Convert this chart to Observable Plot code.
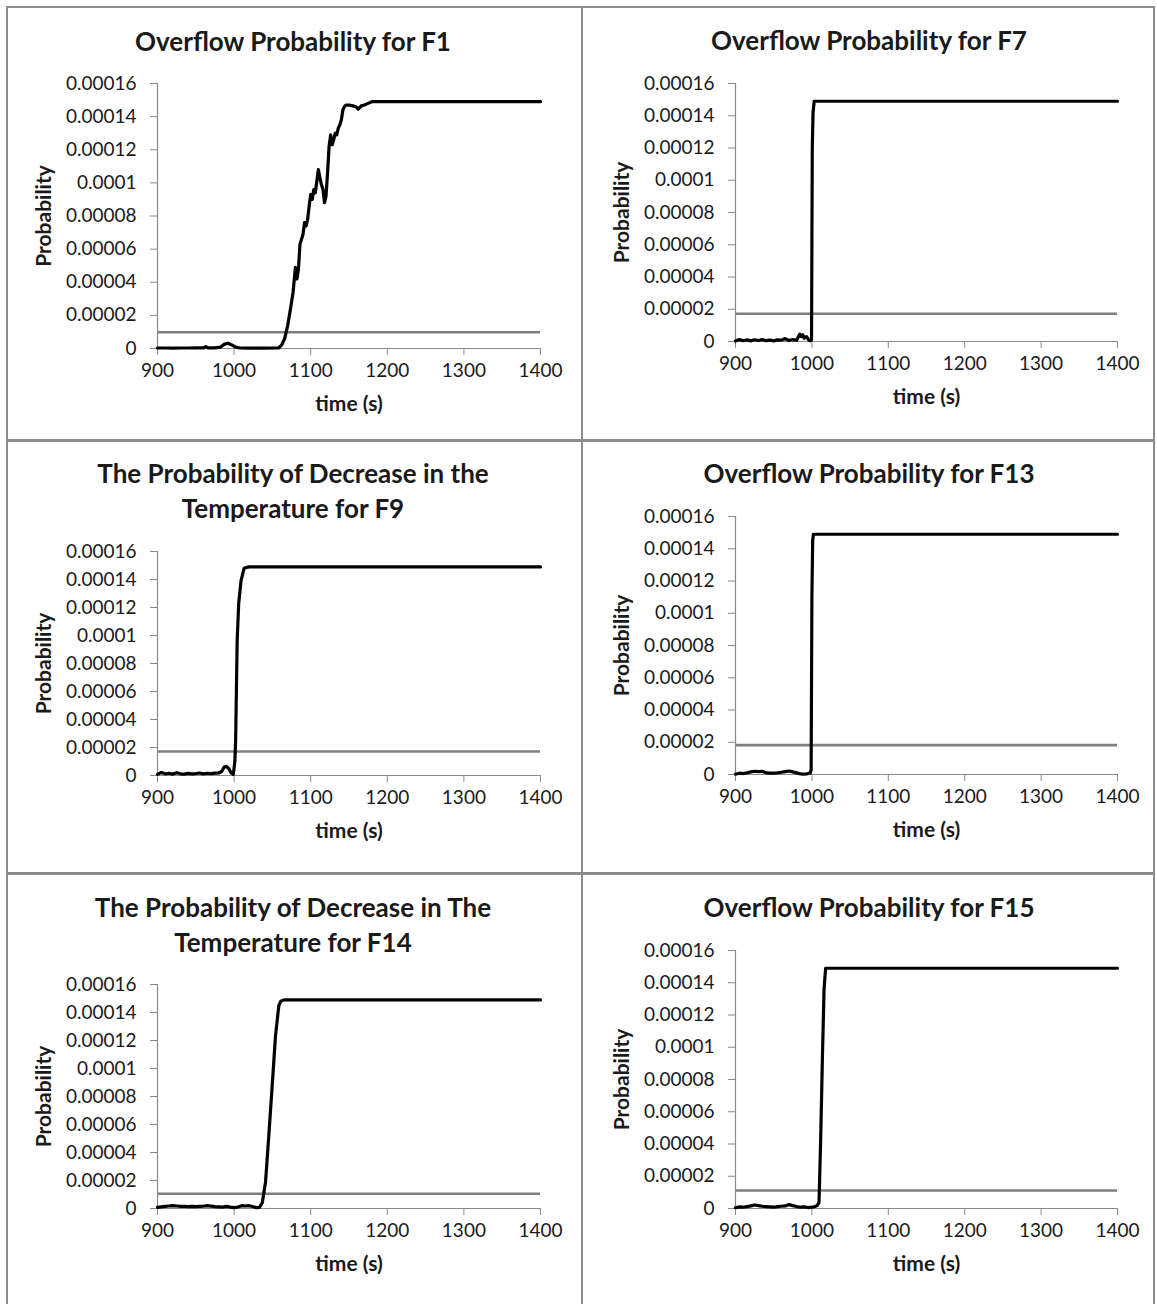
<!DOCTYPE html>
<html><head><meta charset="utf-8">
<script src="https://cdn.jsdelivr.net/npm/d3@7"></script>
<script src="https://cdn.jsdelivr.net/npm/@observablehq/plot@0.6"></script>
<style>
html,body{margin:0;padding:0;background:#fff;}
#page{position:relative;width:1157px;height:1304px;overflow:hidden;font-family:Lato,"Open Sans",sans-serif;background:#fff;}
.title{position:absolute;transform:translateX(-50%);text-align:center;font-weight:700;font-size:26px;line-height:35px;color:#1a1a1a;white-space:nowrap;}
.chart{position:absolute;}
.chart svg{overflow:visible;}
.rule{position:absolute;background:#8c8c8c;}
.chart svg g[aria-label$="-axis tick"]{stroke:#8a8a8a;}
.chart svg g[aria-label$="-axis label"] text{font-weight:700;font-size:21px;}
</style></head>
<body><div id="page"></div>
<script>
// ---- tick values & labels ----
const xTicks = [900, 1000, 1100, 1200, 1300, 1400];
const yTicks = [0, 0.00002, 0.00004, 0.00006, 0.00008, 0.0001, 0.00012, 0.00014, 0.00016];
const yTickLabels = ["0", "0.00002", "0.00004", "0.00006", "0.00008", "0.0001", "0.00012", "0.00014", "0.00016"];
const xLabel = "time (s)";
const yLabel = "Probability";

// ---- titles ----
const titles = [
  ["Overflow Probability for F1"],
  ["Overflow Probability for F7"],
  ["The Probability of Decrease in the", "Temperature for F9"],
  ["Overflow Probability for F13"],
  ["The Probability of Decrease in The", "Temperature for F14"],
  ["Overflow Probability for F15"]
];

// ---- threshold levels (gray lines) ----
const thresholds = [0.0000098, 0.0000172, 0.0000171, 0.0000182, 0.0000105, 0.0000112];

// ---- series ----
const f1Time = [900, 910, 920, 930, 940, 950, 960, 963, 966, 975, 982, 987, 992, 997, 1002, 1008, 1020, 1040, 1058, 1062, 1066, 1070, 1074, 1077, 1079, 1080, 1082, 1084, 1086, 1088, 1090, 1092, 1094, 1096, 1098, 1100, 1102, 1104, 1106, 1108, 1110, 1112, 1114, 1116, 1118, 1120, 1122, 1124, 1126, 1128, 1130, 1132, 1134, 1136, 1138, 1140, 1142, 1144, 1146, 1150, 1155, 1159, 1162, 1166, 1170, 1175, 1180, 1190, 1400];
const f1Prob = [0.0000003, 0.0000003, 0.0000002, 0.0000003, 0.0000003, 0.0000004, 0.0000004, 0.0000012, 0.0000004, 0.0000004, 0.0000008, 0.0000025, 0.0000032, 0.0000022, 0.0000008, 0.0000003, 0.0000002, 0.0000002, 0.0000003, 0.000002, 0.000006, 0.000014, 0.000025, 0.000034, 0.000044, 0.000049, 0.000042, 0.000048, 0.000063, 0.000066, 0.000069, 0.000076, 0.000074, 0.000078, 0.000086, 0.000093, 0.00009, 0.000096, 0.000094, 0.000101, 0.000108, 0.000103, 0.000099, 0.000096, 0.000088, 0.000092, 0.000106, 0.000122, 0.000129, 0.000123, 0.000126, 0.00013, 0.000129, 0.000133, 0.000135, 0.000138, 0.000144, 0.000146, 0.000147, 0.000147, 0.0001465, 0.000146, 0.0001445, 0.0001465, 0.000147, 0.000148, 0.000149, 0.000149, 0.000149];

const f7Time = [900, 905, 910, 915, 920, 925, 930, 935, 940, 945, 950, 955, 960, 965, 970, 975, 980, 984, 986, 988, 990, 993, 996, 998, 999.5, 1000.5, 1001.5, 1003, 1400];
const f7Prob = [0.0000003, 0.0000012, 0.0000005, 0.000001, 0.0000004, 0.0000011, 0.0000006, 0.0000012, 0.0000005, 0.0000009, 0.0000004, 0.000001, 0.0000008, 0.0000018, 0.0000006, 0.0000012, 0.0000008, 0.0000045, 0.000003, 0.0000042, 0.000002, 0.000003, 0.0000008, 0.0000005, 0.000001, 0.00012, 0.000142, 0.000149, 0.000149];

const f9Time = [900, 905, 910, 915, 920, 925, 930, 935, 940, 945, 950, 955, 960, 965, 970, 975, 980, 984, 987, 990, 993, 996, 999, 1001, 1002, 1004, 1006, 1009, 1013, 1019, 1400];
const f9Prob = [0.0000008, 0.0000022, 0.0000012, 0.0000016, 0.000001, 0.000002, 0.0000012, 0.000001, 0.0000015, 0.0000012, 0.0000014, 0.0000018, 0.0000012, 0.0000016, 0.0000013, 0.0000017, 0.0000018, 0.000003, 0.000006, 0.0000065, 0.000005, 0.000002, 0.0000008, 0.00001, 0.000025, 0.000096, 0.000123, 0.000139, 0.000148, 0.000149, 0.000149];

const f13Time = [900, 905, 910, 915, 920, 925, 930, 935, 940, 945, 950, 955, 960, 965, 970, 975, 980, 985, 989, 993, 996, 998, 999, 1000, 1001, 1002, 1400];
const f13Prob = [0.0000002, 0.0000008, 0.0000006, 0.000001, 0.0000016, 0.000002, 0.0000018, 0.000002, 0.000001, 0.0000008, 0.0000008, 0.000001, 0.0000014, 0.0000018, 0.0000022, 0.0000016, 0.000001, 0.0000004, 0.0000002, 0.0000003, 0.0000008, 0.000001, 0.000003, 0.00011, 0.000145, 0.000149, 0.000149];

const f14Time = [900, 905, 910, 915, 920, 925, 930, 935, 940, 945, 950, 955, 960, 965, 970, 975, 980, 985, 990, 995, 1000, 1005, 1010, 1015, 1020, 1025, 1029, 1033, 1036.7, 1041, 1045.3, 1049.7, 1054, 1058.4, 1061, 1065, 1400];
const f14Prob = [0.0000008, 0.0000012, 0.0000015, 0.0000018, 0.000002, 0.0000018, 0.0000015, 0.0000016, 0.0000014, 0.0000015, 0.0000014, 0.0000015, 0.0000016, 0.000002, 0.0000017, 0.0000014, 0.0000012, 0.000001, 0.0000015, 0.000001, 0.0000006, 0.000001, 0.000002, 0.0000018, 0.000002, 0.0000012, 0.0000006, 0.0000008, 0.000004, 0.0000186, 0.000052, 0.0000876, 0.000123, 0.000145, 0.000148, 0.000149, 0.000149];

const f15Time = [900, 905, 910, 915, 920, 925, 930, 935, 940, 945, 950, 955, 960, 965, 970, 975, 980, 985, 990, 995, 1000, 1004, 1007, 1009.3, 1011.5, 1013.8, 1015.9, 1018, 1400];
const f15Prob = [0.0000005, 0.000001, 0.0000008, 0.0000012, 0.0000016, 0.0000022, 0.0000018, 0.0000014, 0.0000012, 0.000001, 0.0000008, 0.0000012, 0.0000014, 0.0000016, 0.0000024, 0.0000018, 0.0000012, 0.0000008, 0.000001, 0.0000006, 0.0000008, 0.0000012, 0.000002, 0.0000037, 0.000043, 0.0000945, 0.000136, 0.000149, 0.000149];

const seriesTimes = [f1Time, f7Time, f9Time, f13Time, f14Time, f15Time];
const seriesProbs = [f1Prob, f7Prob, f9Prob, f13Prob, f14Prob, f15Prob];

// ---- layout (page pixels) ----
const layout = [
  {left: 7,   right: 581,  x0: 157, x1: 540,  yTop: 83,  y0: 348,  tx: 293, ty: 24},
  {left: 583, right: 1153, x0: 735, x1: 1117, yTop: 83,  y0: 341,  tx: 869, ty: 23},
  {left: 7,   right: 581,  x0: 157, x1: 540,  yTop: 551, y0: 775,  tx: 293, ty: 456},
  {left: 583, right: 1153, x0: 735, x1: 1117, yTop: 516, y0: 774,  tx: 869, ty: 456},
  {left: 7,   right: 581,  x0: 157, x1: 540,  yTop: 984, y0: 1208, tx: 293, ty: 890},
  {left: 583, right: 1153, x0: 735, x1: 1117, yTop: 950, y0: 1208, tx: 869, ty: 890}
];

const page = document.getElementById("page");

// panel borders
const borders = [
  {l: 6, t: 6, w: 1148, h: 2},
  {l: 6, t: 6, w: 2, h: 1298},
  {l: 581, t: 6, w: 2, h: 1298},
  {l: 1153, t: 6, w: 2, h: 1298},
  {l: 6, t: 439, w: 1149, h: 3},
  {l: 6, t: 872, w: 1149, h: 3}
];
for (const b of borders) {
  const d = document.createElement("div");
  d.className = "rule";
  Object.assign(d.style, {left: b.l + "px", top: b.t + "px", width: b.w + "px", height: b.h + "px"});
  page.appendChild(d);
}

layout.forEach((L, i) => {
  // title
  const t = document.createElement("div");
  t.className = "title";
  t.style.left = L.tx + "px";
  t.style.top = L.ty + "px";
  t.innerHTML = titles[i].join("<br>");
  page.appendChild(t);

  const mTop = 20, mBottom = 80;
  const svgTop = L.yTop - mTop;
  const width = L.right - L.left;
  const height = L.y0 - svgTop + mBottom;
  const data = seriesTimes[i].map((tt, k) => ({time: tt, prob: seriesProbs[i][k]}));

  const chart = Plot.plot({
    width, height,
    marginLeft: L.x0 - L.left,
    marginRight: L.right - L.x1,
    marginTop: mTop,
    marginBottom: mBottom,
    style: {fontFamily: "Lato, 'Open Sans', sans-serif", fontSize: "19px", color: "#1a1a1a", background: "transparent", overflow: "visible"},
    x: {domain: [xTicks[0], xTicks[xTicks.length - 1]], ticks: xTicks, tickFormat: d => String(d), tickSize: 7, tickPadding: 8,
        label: xLabel, labelAnchor: "center", labelOffset: 62, labelArrow: "none"},
    y: {domain: [yTicks[0], yTicks[yTicks.length - 1]], ticks: yTicks, tickFormat: d => yTickLabels[yTicks.indexOf(d)], tickSize: 7, tickPadding: 14,
        label: yLabel, labelAnchor: "center", labelOffset: 121, labelArrow: "none"},
    marks: [
      Plot.ruleY([thresholds[i]], {stroke: "#7f7f7f", strokeWidth: 2.6}),
      Plot.ruleX([xTicks[0]], {stroke: "#8a8a8a", strokeWidth: 1.2}),
      Plot.ruleY([yTicks[0]], {stroke: "#8a8a8a", strokeWidth: 1.2}),
      Plot.line(data, {x: "time", y: "prob", stroke: "#000", strokeWidth: 3.2, strokeLinejoin: "round", strokeLinecap: "round"})
    ]
  });
  const wrap = document.createElement("div");
  wrap.className = "chart";
  wrap.style.left = L.left + "px";
  wrap.style.top = svgTop + "px";
  wrap.appendChild(chart);
  page.appendChild(wrap);
});
</script>
</body></html>
